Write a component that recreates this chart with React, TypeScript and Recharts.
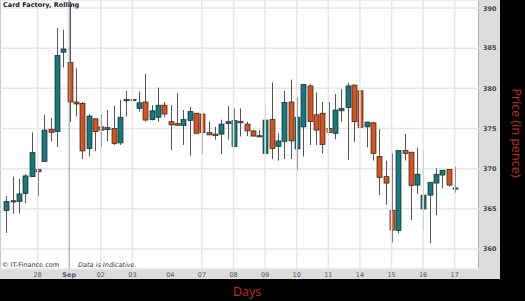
import React from "react";
import {
  ComposedChart,
  Bar,
  XAxis,
  YAxis,
  CartesianGrid,
  ReferenceLine,
} from "recharts";

document.body.style.margin = "0";

// candle values (pence)
const opens = [
  364.8, 365.9, 365.9, 366.9, 369.0, 369.9, 370.9, 374.9, 374.6, 384.5,
  383.2, 378.3, 378.1, 372.5, 376.2, 375.2, 374.85, 375.0, 373.2, 378.5,
  378.55, 377.5, 378.3, 376.1, 376.4, 377.9, 375.85, 375.6, 375.35, 376.0,
  376.9, 376.8, 374.5, 374.3, 374.3, 375.6, 372.75, 375.9, 375.55, 374.7,
  374.05, 371.9, 376.1, 372.75, 373.4, 378.3, 372.45, 375.2, 380.3, 376.7,
  376.9, 375.0, 374.4, 377.2, 377.6, 380.4, 379.7, 375.2, 375.7, 371.5,
  369.0, 364.8, 362.3, 372.25, 372.05, 367.95, 364.98, 366.7, 368.2, 369.2,
  369.9, 367.45,
];
const highs = [
  366.6, 369.0, 368.7, 369.3, 374.5, 370.0, 376.7, 376.3, 387.5, 387.3,
  390.8, 382.5, 378.3, 376.8, 376.2, 376.8, 377.3, 377.8, 378.55, 379.7,
  378.6, 379.6, 381.8, 377.9, 380.1, 378.3, 377.9, 379.4, 377.3, 377.7,
  376.9, 376.8, 375.85, 375.2, 376.1, 377.8, 377.5, 377.5, 375.85, 374.8,
  374.8, 377.9, 380.75, 374.4, 379.7, 381.1, 378.9, 380.5, 380.5, 379.5,
  378.3, 378.3, 379.3, 379.9, 380.7, 380.5, 379.8, 375.85, 375.85, 374.9,
  371.0, 371.9, 372.25, 374.3, 372.05, 372.6, 372.3, 368.3, 370.05, 369.8,
  369.9, 370.25,
];
const lows = [
  362.0, 364.4, 364.4, 365.7, 369.0, 366.6, 370.9, 373.4, 372.7, 382.6,
  375.8, 376.5, 371.2, 371.5, 372.2, 372.7, 373.4, 372.95, 372.95, 376.5,
  378.5, 377.1, 375.85, 376.0, 375.8, 376.4, 372.3, 375.4, 372.95, 371.6,
  374.4, 371.8, 374.2, 373.6, 371.8, 373.6, 372.75, 374.0, 374.05, 374.05,
  374.05, 371.9, 371.2, 371.0, 371.2, 371.2, 369.8, 371.5, 372.95, 372.95,
  371.9, 374.5, 373.65, 375.85, 371.1, 373.35, 375.15, 372.65, 371.0, 366.7,
  365.5, 360.8, 361.95, 371.0, 363.6, 366.85, 362.35, 360.7, 364.2, 367.55,
  367.75, 367.0,
];
const closes = [
  365.9, 366.0, 366.85, 369.1, 372.0, 369.6, 374.8, 374.5, 384.1, 384.9,
  378.3, 378.05, 372.2, 376.55, 374.6, 374.8, 375.1, 373.15, 376.4, 378.6,
  378.6, 378.2, 376.05, 377.2, 377.9, 376.8, 375.45, 375.4, 376.1, 377.1,
  374.4, 374.5, 374.2, 374.1, 375.55, 375.85, 376.0, 375.7, 374.7, 374.05,
  374.1, 376.05, 372.5, 373.45, 378.25, 373.45, 376.4, 380.5, 375.85, 374.8,
  373.0, 374.5, 377.3, 377.5, 380.3, 375.85, 375.15, 375.8, 371.9, 368.9,
  368.2, 362.35, 372.25, 371.9, 367.9, 369.3, 366.7, 368.3, 369.3, 369.8,
  367.95, 367.6,
];

const tickIndex = [5, 10, 15, 20, 26, 31, 36, 41, 46, 51, 56, 61, 66, 71];
const tickLabels = ["28", "Sep", "02", "03", "04", "07", "08", "09", "10", "11", "14", "15", "16", "17"];
const gridIndex = [5, 15, 20, 31, 36, 41, 46, 51, 56, 61, 66, 71];
const priceTicks = [360, 365, 370, 375, 380, 385, 390];

const data = opens.map((o, i) => ({
  i,
  open: o,
  high: highs[i],
  low: lows[i],
  close: closes[i],
  range: [lows[i], highs[i]],
}));

const Candle = (props: any) => {
  const { x, y, width, height, payload } = props;
  const { open, close, high, low } = payload;
  const k = height / (high - low);
  const cx = Math.round(x + width / 2) + 0.5;
  const top = y + (high - Math.max(open, close)) * k;
  const bot = y + (high - Math.min(open, close)) * k;
  const up = close >= open;
  return (
    <g>
      <line x1={cx} x2={cx} y1={y} y2={y + height} stroke="#555" strokeWidth={1} />
      <rect
        x={cx - 2.5}
        y={top}
        width={5}
        height={Math.max(bot - top, 1.2)}
        fill={up ? "#127a80" : "#d9531f"}
        stroke="#222"
        strokeWidth={0.7}
      />
    </g>
  );
};

const XTick = (props: any) => {
  const { x, y, payload } = props;
  const label = tickLabels[tickIndex.indexOf(payload.value)];
  return (
    <text
      x={x}
      y={y + 6.5}
      textAnchor="middle"
      fontFamily="DejaVu Sans"
      fontSize={6.5}
      fontWeight={label === "Sep" ? "bold" : "normal"}
      fill="#555"
    >
      {label}
    </text>
  );
};

const YTick = (props: any) => {
  const { x, y, payload } = props;
  return (
    <text x={x} y={y + 2.3} fontFamily="DejaVu Sans" fontSize={6.5} fontWeight="bold" fill="#444">
      {payload.value}
    </text>
  );
};

export default function App() {
  return (
    <div style={{ position: "relative", width: 525, height: 301, background: "#000", overflow: "hidden" }}>
      <div style={{ position: "absolute", left: 0, top: 0, width: 500, height: 279, background: "#dcdcdc" }} />
      <div
        style={{
          position: "absolute",
          left: 0,
          top: 0,
          width: 479,
          height: 269,
          background: "#fff",
          borderLeft: "1px solid #c8c8c8",
          borderRight: "1px solid #b0b0b0",
          boxSizing: "border-box",
        }}
      />
      <div style={{ position: "absolute", left: 0, top: 0 }}>
        <ComposedChart
          width={525}
          height={301}
          data={data}
          margin={{ top: 0, right: 25, bottom: 22, left: 0 }}
        >
          <CartesianGrid vertical={false} stroke="#e6e6e6" strokeWidth={1.5} />
          {gridIndex.map((g) => (
            <ReferenceLine key={g} x={g} stroke="#e6e6e6" strokeWidth={1.5} />
          ))}
          <ReferenceLine x={10} stroke="#999" strokeWidth={1} />
          <XAxis
            dataKey="i"
            type="number"
            domain={[-0.95, 75]}
            ticks={tickIndex}
            interval={0}
            allowDataOverflow
            tickLine={false}
            axisLine={false}
            tickSize={0}
            tickMargin={1}
            height={10}
            tick={<XTick />}
          />
          <YAxis
            orientation="right"
            domain={[357.5, 391]}
            ticks={priceTicks}
            allowDataOverflow
            tickLine={false}
            axisLine={false}
            tickSize={0}
            tickMargin={3}
            width={20}
            tick={<YTick />}
          />
          <Bar dataKey="range" barSize={5} shape={<Candle />} isAnimationActive={false} />
        </ComposedChart>
      </div>
      <div
        style={{
          position: "absolute",
          left: 3,
          top: 1,
          fontFamily: "DejaVu Sans",
          fontSize: 6.5,
          fontWeight: "bold",
          color: "#222",
          whiteSpace: "nowrap",
        }}
      >
        Card Factory, Rolling
      </div>
      <div
        style={{
          position: "absolute",
          left: 2,
          top: 261,
          fontFamily: "DejaVu Sans",
          fontSize: 6.5,
          color: "#333",
          whiteSpace: "nowrap",
        }}
      >
        © IT-Finance.com
      </div>
      <div
        style={{
          position: "absolute",
          left: 78,
          top: 261,
          fontFamily: "DejaVu Sans",
          fontSize: 6.5,
          fontStyle: "italic",
          color: "#333",
          whiteSpace: "nowrap",
        }}
      >
        Data is Indicative.
      </div>
      <div
        style={{
          position: "absolute",
          left: 516,
          top: 133,
          transform: "translate(-50%, -50%) rotate(90deg)",
          fontFamily: "Open Sans",
          fontSize: 12.5,
          color: "#c62d1f",
          whiteSpace: "nowrap",
          lineHeight: 1,
        }}
      >
        Price (in pence)
      </div>
      <div
        style={{
          position: "absolute",
          left: 247,
          top: 286,
          transform: "translateX(-50%)",
          fontFamily: "Open Sans",
          fontSize: 12.5,
          color: "#c62d1f",
          whiteSpace: "nowrap",
          lineHeight: 1,
        }}
      >
        Days
      </div>
    </div>
  );
}
